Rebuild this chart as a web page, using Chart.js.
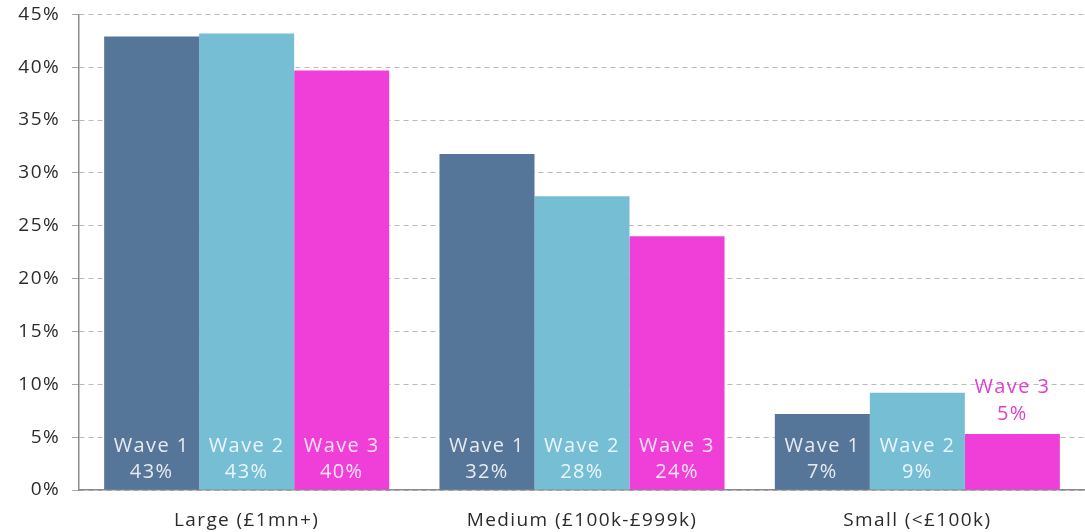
<!DOCTYPE html>
<html>
<head>
<meta charset="utf-8">
<script src="https://cdn.jsdelivr.net/npm/chart.js@4.4.1/dist/chart.umd.min.js"></script>
<style>
  html, body { margin: 0; padding: 0; background: #ffffff; overflow: hidden; }
  #wrap { width: 1085px; height: 532px; position: relative; overflow: hidden; }
  #inner { position: absolute; left: 0; top: -9px; width: 1085px; height: 541px; }
</style>
</head>
<body>
<div id="wrap"><div id="inner"><canvas id="chart"></canvas></div></div>
<script>
// Business size bands
const categories = ['Large (£1mn+)', 'Medium (£100k-£999k)', 'Small (<£100k)'];
const waveNames = ['Wave 1', 'Wave 2', 'Wave 3'];
// Share of respondents (%) per wave
const wave1 = [42.9, 31.8, 7.2];
const wave2 = [43.2, 27.8, 9.2];
const wave3 = [39.7, 24.0, 5.3];
const yTicks = [0, 5, 10, 15, 20, 25, 30, 35, 40, 45];

const colors = ['#557599', '#75bed4', '#f03fd9'];
const FONT = "'Open Sans', 'Noto Sans', sans-serif";

// Slightly widened lettering for all canvas text
const spacing = {
  id: 'spacing',
  beforeDraw(chart) { chart.ctx.letterSpacing = '1.4px'; }
};

// Writes "Wave N / xx%" inside the foot of each bar, or above it when the bar is too short
const barLabels = {
  id: 'barLabels',
  afterDatasetsDraw(chart) {
    const ctx = chart.ctx;
    ctx.save();
    ctx.font = '20px ' + FONT;
    ctx.letterSpacing = '1.4px';
    ctx.textAlign = 'center';
    ctx.textBaseline = 'middle';
    chart.data.datasets.forEach((ds, di) => {
      const meta = chart.getDatasetMeta(di);
      meta.data.forEach((bar, i) => {
        const v = ds.data[i];
        const text = [ds.label, Math.round(v) + '%'];
        const bottom = bar.base;
        const height = bottom - bar.y;
        if (height > 60) {
          ctx.fillStyle = 'rgba(255,255,255,0.86)';
          ctx.fillText(text[0], bar.x, bottom - 43);
          ctx.fillText(text[1], bar.x, bottom - 17);
        } else {
          ctx.fillStyle = '#e03fce';
          ctx.fillText(text[0], bar.x, bar.y - 47);
          ctx.fillText(text[1], bar.x, bar.y - 20);
        }
      });
    });
    ctx.restore();
  }
};

new Chart(document.getElementById('chart'), {
  type: 'bar',
  data: {
    labels: categories,
    datasets: [
      { label: waveNames[0], data: wave1, backgroundColor: colors[0] },
      { label: waveNames[1], data: wave2, backgroundColor: colors[1] },
      { label: waveNames[2], data: wave3, backgroundColor: colors[2] }
    ]
  },
  options: {
    responsive: true,
    maintainAspectRatio: false,
    animation: false,
    layout: { padding: 0 },
    datasets: {
      bar: { categoryPercentage: 0.85, barPercentage: 1.0, borderWidth: 0 }
    },
    plugins: {
      legend: { display: false },
      tooltip: { enabled: false }
    },
    scales: {
      x: {
        afterFit(scale) { scale.height = 42; },
        grid: { display: false, drawTicks: false },
        border: { display: true, color: '#8a8a8a', width: 1.5 },
        ticks: {
          color: '#2b2b2b',
          font: { family: FONT, size: 19 },
          padding: 19
        }
      },
      y: {
        min: 0,
        max: 45,
        z: 1,
        afterFit(scale) { scale.width = 79; },
        afterBuildTicks(scale) { scale.ticks = yTicks.map(v => ({ value: v })); },
        grid: {
          color: 'rgba(130,130,130,0.55)',
          lineWidth: 1,
          tickLength: 7,
          drawTicks: true,
          tickColor: 'rgba(130,130,130,0.7)'
        },
        border: { display: true, color: '#8a8a8a', width: 1.5, dash: [5, 4] },
        ticks: {
          color: '#2b2b2b',
          font: { family: FONT, size: 19 },
          padding: 12,
          callback: v => v + '%'
        }
      }
    }
  },
  plugins: [spacing, barLabels]
});
</script>
</body>
</html>
